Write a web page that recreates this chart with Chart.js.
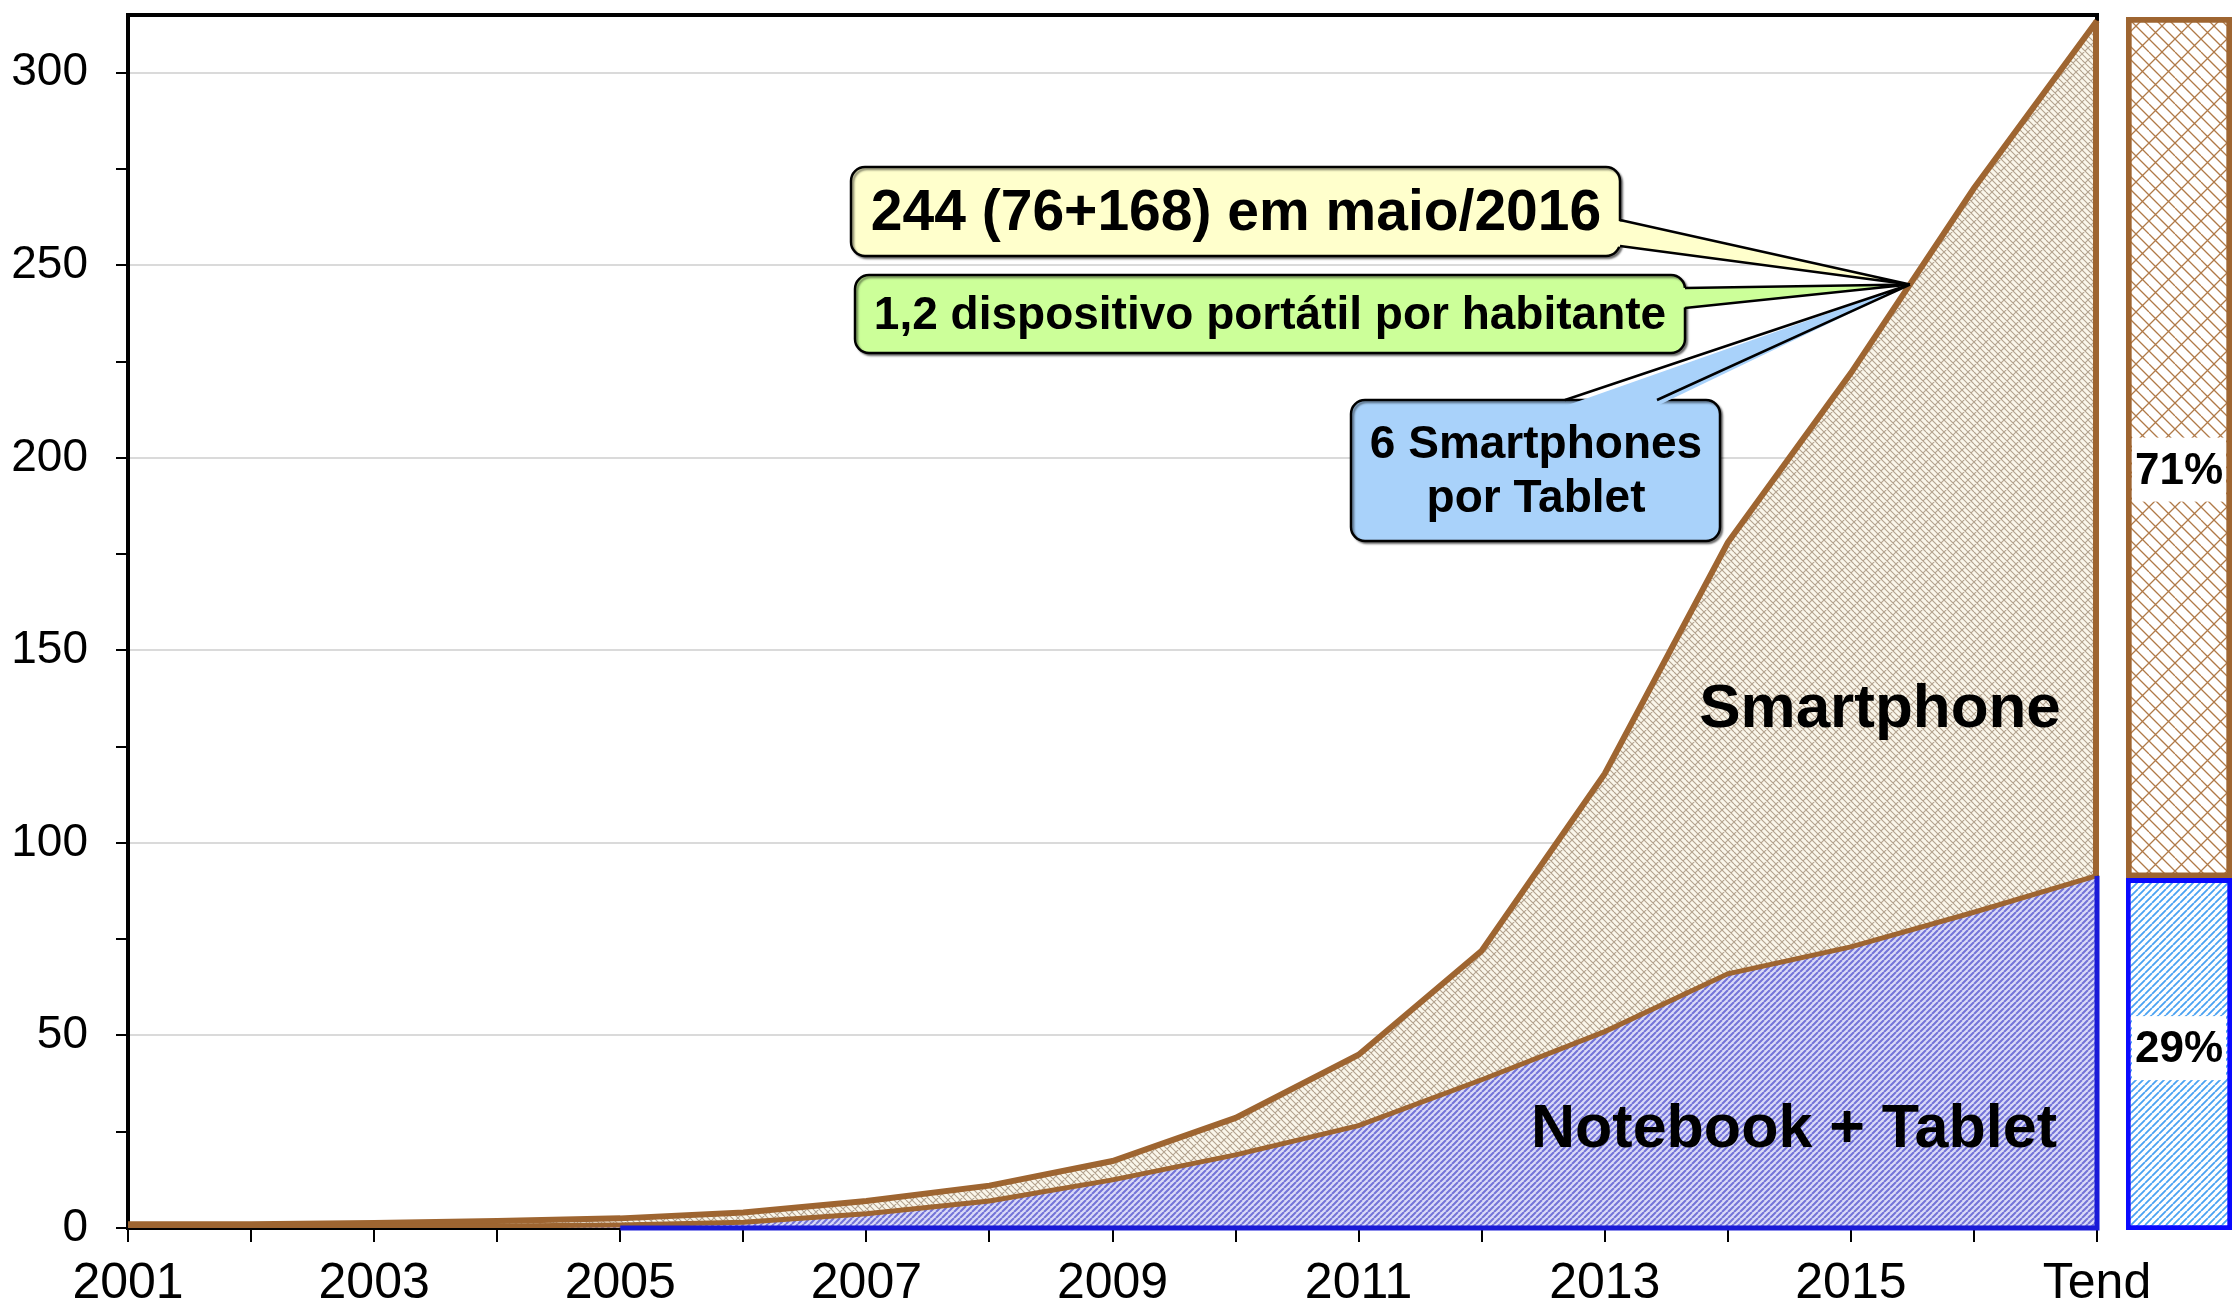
<!DOCTYPE html>
<html>
<head>
<meta charset="utf-8">
<script src="https://cdn.jsdelivr.net/npm/chart.js@4.4.1/dist/chart.umd.min.js"></script>
<style>
  body { margin: 0; background: #fff; }
  #chart { position: absolute; left: 0; top: 0; }
  #share { position: absolute; left: 2110px; top: 0; }
</style>
</head>
<body>
<canvas id="chart" width="2234" height="1309"></canvas>
<canvas id="share" width="124" height="1309"></canvas>
<script>
// anos (último ponto = tendência)
const years = ['2001','2002','2003','2004','2005','2006','2007','2008','2009','2010',
               '2011','2012','2013','2014','2015','2016','Tend'];
// milhões de unidades em uso
const notebookTablet = [0.2, 0.3, 0.4, 0.5, 0.8, 1.5, 3.7, 7, 12.5, 19, 26.6, 38.5, 51, 66, 73, 82, 91.5];
const smartphone     = [0.8, 0.7, 0.9, 1.3, 1.7, 2.5, 3.3, 4, 4.9, 9.6, 18.4, 33.5, 67, 112, 149, 188, 222];
// participação na tendência (%)
const shareLabels = ['Tend'];
const shareNotebook = [29];
const shareSmartphone = [71];

const yTicks = { min: 0, max: 315, step: 25, labelStep: 50 };

const brown = '#9e6531';
const FONT = "'Liberation Sans', Arial, sans-serif";
Chart.defaults.font.family = FONT;

function makePattern(size, bg, color, width, dense) {
  const c = document.createElement('canvas');
  c.width = c.height = size;
  const g = c.getContext('2d');
  g.fillStyle = bg;
  g.fillRect(0, 0, size, size);
  g.strokeStyle = color;
  g.lineWidth = width;
  g.beginPath();
  for (let k = -size; k <= size; k += size) {
    g.moveTo(k, size); g.lineTo(k + size, 0);
  }
  if (dense) {
    const h = size / 2;
    for (let k = -size; k <= size; k += h) {
      g.moveTo(k, 0); g.lineTo(k + size, size);
    }
  }
  g.stroke();
  return g.createPattern(c, 'repeat');
}

function makeHatch(size, bg, color, width) {
  return makePattern(size, bg, color, width, false);
}

const blueFill = makeHatch(6, '#dadaf8', '#7474d8', 2.1);
const brownFill = makePattern(12, '#faf6ea', '#b3a28e', 1.1, true);
const barBrownFill = makePattern(26, '#ffffff', '#b07a48', 1.3, true);
const barBlueFill = makeHatch(7, '#ffffff', '#4aa2f2', 1.8);

// moldura preta + bordas da área
const framePlugin = {
  id: 'frame',
  beforeDatasetsDraw(chart) {
    const { ctx, chartArea: a } = chart;
    ctx.save();
    ctx.strokeStyle = '#000';
    ctx.lineWidth = 4;
    ctx.strokeRect(a.left, a.top, a.right - a.left, a.bottom - a.top);
    ctx.restore();
  },
  afterDatasetsDraw(chart) {
    const { ctx, chartArea: a, scales } = chart;
    const last = years.length - 1;
    const x = scales.x.getPixelForValue(last);
    const yNb = scales.y.getPixelForValue(notebookTablet[last]);
    const yTot = scales.y.getPixelForValue(notebookTablet[last] + smartphone[last]);
    ctx.save();
    ctx.lineWidth = 5;
    ctx.strokeStyle = '#1a1ad8';
    ctx.beginPath();
    ctx.moveTo(scales.x.getPixelForValue(4), a.bottom);
    ctx.lineTo(x, a.bottom);
    ctx.lineTo(x, yNb);
    ctx.stroke();
    ctx.strokeStyle = brown;
    ctx.lineWidth = 6;
    ctx.beginPath();
    ctx.moveTo(x - 1, yNb);
    ctx.lineTo(x - 1, yTot);
    ctx.stroke();
    ctx.restore();
  }
};

function roundRect(ctx, x, y, w, h, r) {
  ctx.beginPath();
  ctx.moveTo(x + r, y);
  ctx.arcTo(x + w, y, x + w, y + h, r);
  ctx.arcTo(x + w, y + h, x, y + h, r);
  ctx.arcTo(x, y + h, x, y, r);
  ctx.arcTo(x, y, x + w, y, r);
  ctx.closePath();
}

function callout(ctx, box, fill, base, tip, inset) {
  ctx.save();
  ctx.shadowColor = 'rgba(0,0,0,0.45)';
  ctx.shadowOffsetX = 2;
  ctx.shadowOffsetY = 2;
  ctx.shadowBlur = 2;
  ctx.fillStyle = fill;
  ctx.strokeStyle = '#000';
  ctx.lineWidth = 2.5;
  roundRect(ctx, box.x, box.y, box.w, box.h, 14);
  ctx.fill();
  ctx.stroke();
  ctx.shadowColor = 'transparent';
  // cauda
  ctx.beginPath();
  ctx.moveTo(base[0][0] + inset[0], base[0][1] + inset[1]);
  ctx.lineTo(tip.x, tip.y);
  ctx.lineTo(base[1][0] + inset[0], base[1][1] + inset[1]);
  ctx.closePath();
  ctx.fill();
  ctx.beginPath();
  ctx.moveTo(base[0][0], base[0][1]);
  ctx.lineTo(tip.x, tip.y);
  ctx.lineTo(base[1][0], base[1][1]);
  ctx.stroke();
  ctx.restore();
}

const textPlugin = {
  id: 'texts',
  afterDraw(chart) {
    const { ctx, scales } = chart;
    // ponto de maio/2016 na curva total
    const x0 = scales.x.getPixelForValue(14), x1 = scales.x.getPixelForValue(15);
    const tip = { x: x0 + 0.48 * (x1 - x0), y: scales.y.getPixelForValue(245) };

    ctx.save();
    ctx.fillStyle = '#000';
    ctx.textAlign = 'center';
    ctx.textBaseline = 'middle';
    ctx.font = 'bold 62px ' + FONT;
    ctx.fillText('Smartphone', 1880, 710);
    ctx.font = 'bold 61px ' + FONT;
    ctx.fillText('Notebook + Tablet', 1794, 1130);
    ctx.restore();

    callout(ctx, { x: 851, y: 167, w: 769, h: 89 }, '#ffffcc',
      [[1620, 220], [1620, 246]], tip, [-6, 0]);
    callout(ctx, { x: 855, y: 275, w: 830, h: 78 }, '#ccff99',
      [[1685, 288], [1685, 308]], tip, [-6, 0]);
    callout(ctx, { x: 1351, y: 400, w: 369, h: 141 }, '#a9d2fa',
      [[1565, 400], [1657, 400]], tip, [0, 6]);

    ctx.save();
    ctx.fillStyle = '#000';
    ctx.textAlign = 'center';
    ctx.textBaseline = 'middle';
    ctx.font = 'bold 57px ' + FONT;
    ctx.fillText('244 (76+168) em maio/2016', 1236, 214);
    ctx.font = 'bold 46px ' + FONT;
    ctx.fillText('1,2 dispositivo portátil por habitante', 1270, 316);
    ctx.fillText('6 Smartphones', 1536, 445);
    ctx.fillText('por Tablet', 1536, 499);
    ctx.restore();
  }
};

new Chart(document.getElementById('chart'), {
  type: 'line',
  data: {
    labels: years,
    datasets: [
      {
        label: 'Notebook + Tablet',
        data: notebookTablet,
        fill: 'origin',
        backgroundColor: blueFill,
        borderColor: brown,
        borderWidth: 5,
        pointRadius: 0,
        tension: 0
      },
      {
        label: 'Smartphone',
        data: smartphone,
        fill: '-1',
        backgroundColor: brownFill,
        borderColor: brown,
        borderWidth: 6,
        pointRadius: 0,
        tension: 0
      }
    ]
  },
  options: {
    responsive: false,
    animation: false,
    layout: { padding: { top: 15, right: 137, left: 0, bottom: 0 } },
    plugins: { legend: { display: false }, tooltip: { enabled: false } },
    scales: {
      x: {
        offset: false,
        afterFit: s => { s.height = 81; s.paddingLeft = 0; s.paddingRight = 0; },
        border: { display: false },
        grid: { drawOnChartArea: false, tickColor: '#000', tickLength: 14, lineWidth: 2 },
        ticks: {
          autoSkip: false,
          maxRotation: 0,
          padding: 12,
          color: '#000',
          font: { size: 50 },
          callback: function (v, i) { return i % 2 === 0 ? this.getLabelForValue(v) : ''; }
        }
      },
      y: {
        stacked: true,
        min: yTicks.min,
        max: yTicks.max,
        afterFit: s => { s.width = 128; s.paddingTop = 0; s.paddingBottom = 0; },
        afterBuildTicks: s => { s.ticks = s.ticks.filter(t => t.value % yTicks.step === 0); },
        border: { display: false },
        grid: {
          color: c => (c.tick && c.tick.value % yTicks.labelStep === 0 && c.tick.value !== 0) ? '#dadada' : 'rgba(0,0,0,0)',
          tickColor: '#000',
          tickLength: 12,
          lineWidth: 2
        },
        ticks: {
          stepSize: yTicks.step,
          padding: 28,
          color: '#000',
          font: { size: 46 },
          callback: v => (v % yTicks.labelStep === 0 ? v : '')
        }
      }
    }
  },
  plugins: [framePlugin, textPlugin]
});

// barra de participação
const shareLabelPlugin = {
  id: 'shareLabels',
  afterDatasetsDraw(chart) {
    const { ctx } = chart;
    ctx.save();
    ctx.font = 'bold 44px ' + FONT;
    ctx.textAlign = 'center';
    ctx.textBaseline = 'middle';
    chart.data.datasets.forEach((ds, i) => {
      const el = chart.getDatasetMeta(i).data[0];
      const cy = (el.y + el.base) / 2 + (i === 1 ? 22 : -6);
      const txt = ds.data[0] + '%';
      ctx.fillStyle = '#fff';
      ctx.fillRect(el.x - el.width / 2 + 6, cy - 32, el.width - 12, 64);
      ctx.fillStyle = '#000';
      ctx.fillText(txt, el.x, cy + 2);
    });
    ctx.restore();
  }
};

new Chart(document.getElementById('share'), {
  type: 'bar',
  data: {
    labels: shareLabels,
    datasets: [
      { label: 'Notebook + Tablet', data: shareNotebook, backgroundColor: barBlueFill,
        borderColor: '#0a0aff', borderWidth: 5, borderSkipped: false },
      { label: 'Smartphone', data: shareSmartphone, backgroundColor: barBrownFill,
        borderColor: brown, borderWidth: 6, borderSkipped: false }
    ]
  },
  options: {
    responsive: false,
    animation: false,
    layout: { padding: { top: 17, bottom: 79, left: 16, right: 2 } },
    plugins: { legend: { display: false }, tooltip: { enabled: false } },
    datasets: { bar: { barPercentage: 1, categoryPercentage: 1 } },
    scales: {
      x: { display: false, stacked: true },
      y: { display: false, stacked: true, min: 0, max: 100 }
    }
  },
  plugins: [shareLabelPlugin]
});
</script>
</body>
</html>
